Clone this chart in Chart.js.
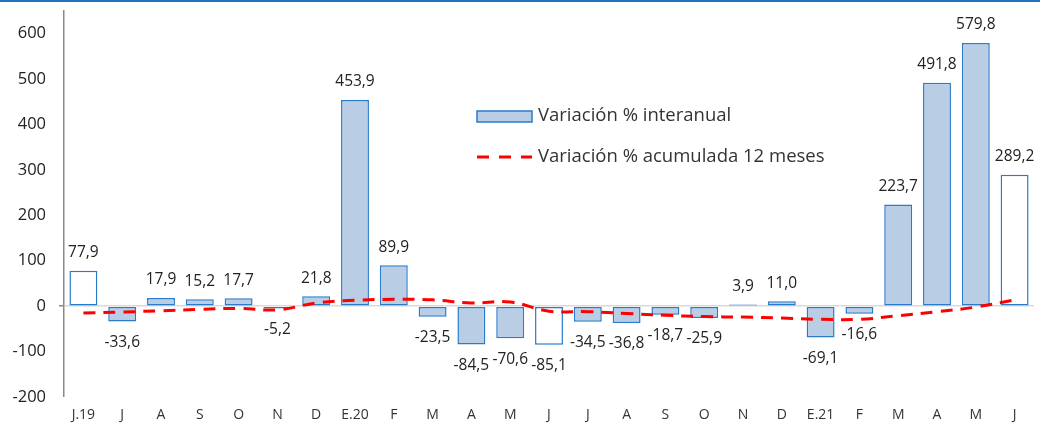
<!DOCTYPE html>
<html>
<head>
<meta charset="utf-8">
<script src="https://cdn.jsdelivr.net/npm/chart.js@4/dist/chart.umd.min.js"></script>
<style>
  html, body { margin: 0; padding: 0; background: #fff; }
  #wrap { width: 1040px; height: 423px; position: relative; }
</style>
</head>
<body>
<div id="wrap"><canvas id="c" width="1040" height="423"></canvas></div>
<script>
const categories = ['J.19','J','A','S','O','N','D','E.20','F','M','A','M','J','J','A','S','O','N','D','E.21','F','M','A','M','J'];
const interanual = [77.9, -33.6, 17.9, 15.2, 17.7, -5.2, 21.8, 453.9, 89.9, -23.5, -84.5, -70.6, -85.1, -34.5, -36.8, -18.7, -25.9, 3.9, 11.0, -69.1, -16.6, 223.7, 491.8, 579.8, 289.2];
const acumulada12 = [-15, -13, -10, -7, -5, -8, 7, 13, 15, 14, 7, 9, -11, -12, -16, -20, -23, -24, -26, -29, -29, -21, -12, -2, 14];
const hollowBars = [0, 12, 24];
const yTicks = [-200, -100, 0, 100, 200, 300, 400, 500, 600];
const seriesNames = ['Variación % interanual', 'Variación % acumulada 12 meses'];

const FONT = "'Open Sans', sans-serif";
const BAR_FILL = '#b9cde5';
const BAR_BORDER = '#2a7bcc';

const fmt = v => v.toFixed(1).replace('.', ',');

const labelsPlugin = {
  id: 'customDraw',
  afterDatasetsDraw(chart) {
    const ctx = chart.ctx;
    const meta = chart.getDatasetMeta(1);
    ctx.save();
    ctx.font = '15.5px ' + FONT;
    ctx.fillStyle = '#222';
    ctx.textAlign = 'center';
    ctx.textBaseline = 'middle';
    meta.data.forEach((bar, i) => {
      const v = interanual[i];
      const y = v >= 0 ? bar.y - 18 : bar.y + 21;
      ctx.fillText(fmt(v), bar.x, y);
    });
    ctx.restore();
  },
  afterDraw(chart) {
    const ctx = chart.ctx;
    ctx.save();
    ctx.fillStyle = '#2372c0';
    ctx.fillRect(0, 0, chart.width, 2);
    ctx.fillStyle = BAR_FILL;
    ctx.strokeStyle = BAR_BORDER;
    ctx.lineWidth = 1.5;
    ctx.fillRect(477, 111, 55, 11);
    ctx.strokeRect(477, 111, 55, 11);
    ctx.strokeStyle = '#ff0000';
    ctx.lineWidth = 3;
    ctx.setLineDash([12, 10]);
    ctx.beginPath();
    ctx.moveTo(477, 157);
    ctx.lineTo(532, 157);
    ctx.stroke();
    ctx.setLineDash([]);
    ctx.font = '18.5px ' + FONT;
    ctx.fillStyle = '#333';
    ctx.textAlign = 'left';
    ctx.textBaseline = 'middle';
    ctx.fillText(seriesNames[0], 538, 116);
    ctx.fillText(seriesNames[1], 538, 157);
    ctx.restore();
  }
};

new Chart(document.getElementById('c'), {
  type: 'bar',
  data: {
    labels: categories,
    datasets: [
      {
        type: 'line',
        label: seriesNames[1],
        data: acumulada12,
        borderColor: '#ff0000',
        borderWidth: 3,
        borderDash: [12, 8],
        pointRadius: 0,
        tension: 0.4,
        fill: false,
        order: 0
      },
      {
        type: 'bar',
        label: seriesNames[0],
        data: interanual,
        backgroundColor: categories.map((_, i) => hollowBars.includes(i) ? '#ffffff' : BAR_FILL),
        borderColor: BAR_BORDER,
        borderWidth: 1.5,
        borderSkipped: false,
        categoryPercentage: 1,
        barPercentage: 0.72,
        order: 1
      }
    ]
  },
  options: {
    responsive: false,
    animation: false,
    events: [],
    layout: { padding: { top: 11, right: 6, left: 0, bottom: 0 } },
    plugins: { legend: { display: false }, tooltip: { enabled: false } },
    scales: {
      x: {
        grid: { display: false },
        border: { display: false },
        ticks: { color: '#333', font: { family: FONT, size: 14 }, maxRotation: 0, autoSkip: false, padding: 2 },
        afterFit(s) { s.height = 26; s.paddingLeft = 0; s.paddingRight = 0; }
      },
      y: {
        min: -200,
        max: 650,
        afterBuildTicks(s) { s.ticks = yTicks.map(v => ({ value: v })); },
        grid: {
          drawOnChartArea: true,
          color: c => (c.tick && c.tick.value === 0) ? '#d9d9d9' : 'rgba(0,0,0,0)',
          lineWidth: c => (c.tick && c.tick.value === 0) ? 1.5 : 0,
          tickColor: '#898989',
          tickLength: 5,
          drawTicks: true
        },
        border: { display: true, color: '#898989', width: 1.5 },
        ticks: { color: '#222', font: { family: FONT, size: 16.5 }, padding: 13 },
        afterFit(s) { s.width = 64; s.paddingTop = 0; s.paddingBottom = 0; }
      }
    }
  },
  plugins: [labelsPlugin]
});
</script>
</body>
</html>
